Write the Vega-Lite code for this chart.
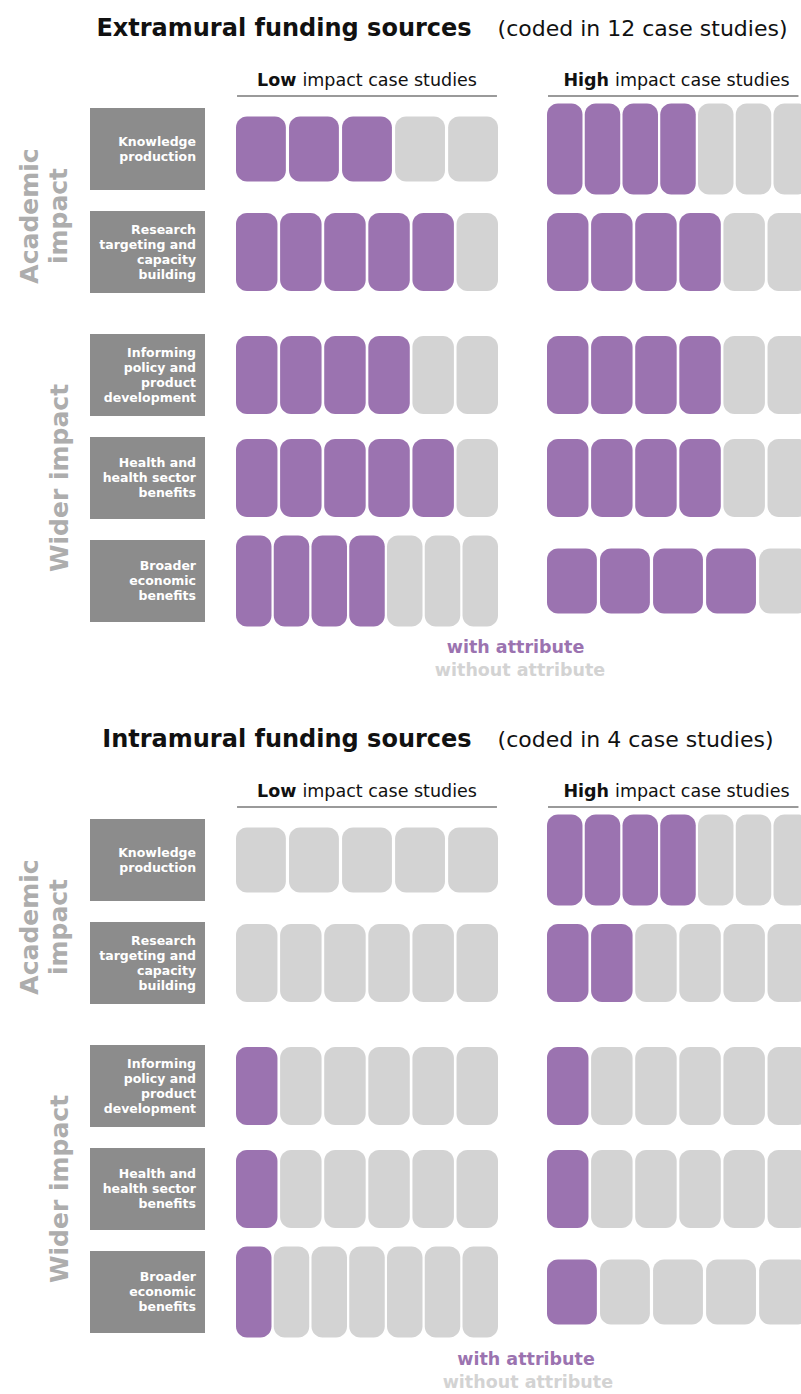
{
  "$schema": "https://vega.github.io/schema/vega-lite/v6.json",
  "padding": 0,
  "spacing": 0,
  "config": {"view": {"stroke": null}, "font": "DejaVu Sans", "text": {"font": "DejaVu Sans"}},
  "datasets": {
    "groups": [
      {"g": "Academic", "t": ["Academic", "impact"]},
      {"g": "Wider", "t": ["Wider impact"]}
    ],
    "labels": [
      {"c": "Knowledge", "g": "Academic", "t": ["Knowledge", "production"]},
      {"c": "Research", "g": "Academic", "t": ["Research", "targeting and", "capacity", "building"]},
      {"c": "Policy", "g": "Wider", "t": ["Informing", "policy and", "product", "development"]},
      {"c": "Health", "g": "Wider", "t": ["Health and", "health sector", "benefits"]},
      {"c": "Economic", "g": "Wider", "t": ["Broader", "economic", "benefits"]}
    ],
    "boxes": [
      {"s": "Extramural", "c": "Knowledge", "l": "Low", "i": 1, "a": "with"},
      {"s": "Extramural", "c": "Knowledge", "l": "Low", "i": 2, "a": "with"},
      {"s": "Extramural", "c": "Knowledge", "l": "Low", "i": 3, "a": "with"},
      {"s": "Extramural", "c": "Knowledge", "l": "Low", "i": 4, "a": "without"},
      {"s": "Extramural", "c": "Knowledge", "l": "Low", "i": 5, "a": "without"},
      {"s": "Extramural", "c": "Knowledge", "l": "High", "i": 1, "a": "with"},
      {"s": "Extramural", "c": "Knowledge", "l": "High", "i": 2, "a": "with"},
      {"s": "Extramural", "c": "Knowledge", "l": "High", "i": 3, "a": "with"},
      {"s": "Extramural", "c": "Knowledge", "l": "High", "i": 4, "a": "with"},
      {"s": "Extramural", "c": "Knowledge", "l": "High", "i": 5, "a": "without"},
      {"s": "Extramural", "c": "Knowledge", "l": "High", "i": 6, "a": "without"},
      {"s": "Extramural", "c": "Knowledge", "l": "High", "i": 7, "a": "without"},
      {"s": "Extramural", "c": "Research", "l": "Low", "i": 1, "a": "with"},
      {"s": "Extramural", "c": "Research", "l": "Low", "i": 2, "a": "with"},
      {"s": "Extramural", "c": "Research", "l": "Low", "i": 3, "a": "with"},
      {"s": "Extramural", "c": "Research", "l": "Low", "i": 4, "a": "with"},
      {"s": "Extramural", "c": "Research", "l": "Low", "i": 5, "a": "with"},
      {"s": "Extramural", "c": "Research", "l": "Low", "i": 6, "a": "without"},
      {"s": "Extramural", "c": "Research", "l": "High", "i": 1, "a": "with"},
      {"s": "Extramural", "c": "Research", "l": "High", "i": 2, "a": "with"},
      {"s": "Extramural", "c": "Research", "l": "High", "i": 3, "a": "with"},
      {"s": "Extramural", "c": "Research", "l": "High", "i": 4, "a": "with"},
      {"s": "Extramural", "c": "Research", "l": "High", "i": 5, "a": "without"},
      {"s": "Extramural", "c": "Research", "l": "High", "i": 6, "a": "without"},
      {"s": "Extramural", "c": "Policy", "l": "Low", "i": 1, "a": "with"},
      {"s": "Extramural", "c": "Policy", "l": "Low", "i": 2, "a": "with"},
      {"s": "Extramural", "c": "Policy", "l": "Low", "i": 3, "a": "with"},
      {"s": "Extramural", "c": "Policy", "l": "Low", "i": 4, "a": "with"},
      {"s": "Extramural", "c": "Policy", "l": "Low", "i": 5, "a": "without"},
      {"s": "Extramural", "c": "Policy", "l": "Low", "i": 6, "a": "without"},
      {"s": "Extramural", "c": "Policy", "l": "High", "i": 1, "a": "with"},
      {"s": "Extramural", "c": "Policy", "l": "High", "i": 2, "a": "with"},
      {"s": "Extramural", "c": "Policy", "l": "High", "i": 3, "a": "with"},
      {"s": "Extramural", "c": "Policy", "l": "High", "i": 4, "a": "with"},
      {"s": "Extramural", "c": "Policy", "l": "High", "i": 5, "a": "without"},
      {"s": "Extramural", "c": "Policy", "l": "High", "i": 6, "a": "without"},
      {"s": "Extramural", "c": "Health", "l": "Low", "i": 1, "a": "with"},
      {"s": "Extramural", "c": "Health", "l": "Low", "i": 2, "a": "with"},
      {"s": "Extramural", "c": "Health", "l": "Low", "i": 3, "a": "with"},
      {"s": "Extramural", "c": "Health", "l": "Low", "i": 4, "a": "with"},
      {"s": "Extramural", "c": "Health", "l": "Low", "i": 5, "a": "with"},
      {"s": "Extramural", "c": "Health", "l": "Low", "i": 6, "a": "without"},
      {"s": "Extramural", "c": "Health", "l": "High", "i": 1, "a": "with"},
      {"s": "Extramural", "c": "Health", "l": "High", "i": 2, "a": "with"},
      {"s": "Extramural", "c": "Health", "l": "High", "i": 3, "a": "with"},
      {"s": "Extramural", "c": "Health", "l": "High", "i": 4, "a": "with"},
      {"s": "Extramural", "c": "Health", "l": "High", "i": 5, "a": "without"},
      {"s": "Extramural", "c": "Health", "l": "High", "i": 6, "a": "without"},
      {"s": "Extramural", "c": "Economic", "l": "Low", "i": 1, "a": "with"},
      {"s": "Extramural", "c": "Economic", "l": "Low", "i": 2, "a": "with"},
      {"s": "Extramural", "c": "Economic", "l": "Low", "i": 3, "a": "with"},
      {"s": "Extramural", "c": "Economic", "l": "Low", "i": 4, "a": "with"},
      {"s": "Extramural", "c": "Economic", "l": "Low", "i": 5, "a": "without"},
      {"s": "Extramural", "c": "Economic", "l": "Low", "i": 6, "a": "without"},
      {"s": "Extramural", "c": "Economic", "l": "Low", "i": 7, "a": "without"},
      {"s": "Extramural", "c": "Economic", "l": "High", "i": 1, "a": "with"},
      {"s": "Extramural", "c": "Economic", "l": "High", "i": 2, "a": "with"},
      {"s": "Extramural", "c": "Economic", "l": "High", "i": 3, "a": "with"},
      {"s": "Extramural", "c": "Economic", "l": "High", "i": 4, "a": "with"},
      {"s": "Extramural", "c": "Economic", "l": "High", "i": 5, "a": "without"},
      {"s": "Intramural", "c": "Knowledge", "l": "Low", "i": 1, "a": "without"},
      {"s": "Intramural", "c": "Knowledge", "l": "Low", "i": 2, "a": "without"},
      {"s": "Intramural", "c": "Knowledge", "l": "Low", "i": 3, "a": "without"},
      {"s": "Intramural", "c": "Knowledge", "l": "Low", "i": 4, "a": "without"},
      {"s": "Intramural", "c": "Knowledge", "l": "Low", "i": 5, "a": "without"},
      {"s": "Intramural", "c": "Knowledge", "l": "High", "i": 1, "a": "with"},
      {"s": "Intramural", "c": "Knowledge", "l": "High", "i": 2, "a": "with"},
      {"s": "Intramural", "c": "Knowledge", "l": "High", "i": 3, "a": "with"},
      {"s": "Intramural", "c": "Knowledge", "l": "High", "i": 4, "a": "with"},
      {"s": "Intramural", "c": "Knowledge", "l": "High", "i": 5, "a": "without"},
      {"s": "Intramural", "c": "Knowledge", "l": "High", "i": 6, "a": "without"},
      {"s": "Intramural", "c": "Knowledge", "l": "High", "i": 7, "a": "without"},
      {"s": "Intramural", "c": "Research", "l": "Low", "i": 1, "a": "without"},
      {"s": "Intramural", "c": "Research", "l": "Low", "i": 2, "a": "without"},
      {"s": "Intramural", "c": "Research", "l": "Low", "i": 3, "a": "without"},
      {"s": "Intramural", "c": "Research", "l": "Low", "i": 4, "a": "without"},
      {"s": "Intramural", "c": "Research", "l": "Low", "i": 5, "a": "without"},
      {"s": "Intramural", "c": "Research", "l": "Low", "i": 6, "a": "without"},
      {"s": "Intramural", "c": "Research", "l": "High", "i": 1, "a": "with"},
      {"s": "Intramural", "c": "Research", "l": "High", "i": 2, "a": "with"},
      {"s": "Intramural", "c": "Research", "l": "High", "i": 3, "a": "without"},
      {"s": "Intramural", "c": "Research", "l": "High", "i": 4, "a": "without"},
      {"s": "Intramural", "c": "Research", "l": "High", "i": 5, "a": "without"},
      {"s": "Intramural", "c": "Research", "l": "High", "i": 6, "a": "without"},
      {"s": "Intramural", "c": "Policy", "l": "Low", "i": 1, "a": "with"},
      {"s": "Intramural", "c": "Policy", "l": "Low", "i": 2, "a": "without"},
      {"s": "Intramural", "c": "Policy", "l": "Low", "i": 3, "a": "without"},
      {"s": "Intramural", "c": "Policy", "l": "Low", "i": 4, "a": "without"},
      {"s": "Intramural", "c": "Policy", "l": "Low", "i": 5, "a": "without"},
      {"s": "Intramural", "c": "Policy", "l": "Low", "i": 6, "a": "without"},
      {"s": "Intramural", "c": "Policy", "l": "High", "i": 1, "a": "with"},
      {"s": "Intramural", "c": "Policy", "l": "High", "i": 2, "a": "without"},
      {"s": "Intramural", "c": "Policy", "l": "High", "i": 3, "a": "without"},
      {"s": "Intramural", "c": "Policy", "l": "High", "i": 4, "a": "without"},
      {"s": "Intramural", "c": "Policy", "l": "High", "i": 5, "a": "without"},
      {"s": "Intramural", "c": "Policy", "l": "High", "i": 6, "a": "without"},
      {"s": "Intramural", "c": "Health", "l": "Low", "i": 1, "a": "with"},
      {"s": "Intramural", "c": "Health", "l": "Low", "i": 2, "a": "without"},
      {"s": "Intramural", "c": "Health", "l": "Low", "i": 3, "a": "without"},
      {"s": "Intramural", "c": "Health", "l": "Low", "i": 4, "a": "without"},
      {"s": "Intramural", "c": "Health", "l": "Low", "i": 5, "a": "without"},
      {"s": "Intramural", "c": "Health", "l": "Low", "i": 6, "a": "without"},
      {"s": "Intramural", "c": "Health", "l": "High", "i": 1, "a": "with"},
      {"s": "Intramural", "c": "Health", "l": "High", "i": 2, "a": "without"},
      {"s": "Intramural", "c": "Health", "l": "High", "i": 3, "a": "without"},
      {"s": "Intramural", "c": "Health", "l": "High", "i": 4, "a": "without"},
      {"s": "Intramural", "c": "Health", "l": "High", "i": 5, "a": "without"},
      {"s": "Intramural", "c": "Health", "l": "High", "i": 6, "a": "without"},
      {"s": "Intramural", "c": "Economic", "l": "Low", "i": 1, "a": "with"},
      {"s": "Intramural", "c": "Economic", "l": "Low", "i": 2, "a": "without"},
      {"s": "Intramural", "c": "Economic", "l": "Low", "i": 3, "a": "without"},
      {"s": "Intramural", "c": "Economic", "l": "Low", "i": 4, "a": "without"},
      {"s": "Intramural", "c": "Economic", "l": "Low", "i": 5, "a": "without"},
      {"s": "Intramural", "c": "Economic", "l": "Low", "i": 6, "a": "without"},
      {"s": "Intramural", "c": "Economic", "l": "Low", "i": 7, "a": "without"},
      {"s": "Intramural", "c": "Economic", "l": "High", "i": 1, "a": "with"},
      {"s": "Intramural", "c": "Economic", "l": "High", "i": 2, "a": "without"},
      {"s": "Intramural", "c": "Economic", "l": "High", "i": 3, "a": "without"},
      {"s": "Intramural", "c": "Economic", "l": "High", "i": 4, "a": "without"},
      {"s": "Intramural", "c": "Economic", "l": "High", "i": 5, "a": "without"}
    ]
  },
  "vconcat": [
    {
      "spacing": 0,
      "vconcat": [
        {
          "width": 801, "height": 60,
          "data": {"values": [{"main": "Extramural funding sources", "note": "(coded in 12 case studies)"}]},
          "layer": [
            {"mark": {"type": "text", "align": "right", "baseline": "middle", "dx": -13, "fontSize": 24, "fontWeight": "bold", "color": "#111111"},
             "encoding": {"x": {"datum": 0.605, "type": "quantitative", "scale": {"domain": [0, 1]}, "axis": null},
                          "y": {"datum": 0.52, "type": "quantitative", "scale": {"domain": [0, 1]}, "axis": null},
                          "text": {"field": "main"}}},
            {"mark": {"type": "text", "align": "left", "baseline": "middle", "dx": 13, "fontSize": 22, "color": "#111111"},
             "encoding": {"x": {"datum": 0.605, "type": "quantitative"}, "y": {"datum": 0.52, "type": "quantitative"}, "text": {"field": "note"}}}
          ]
        },
        {
          "spacing": 31,
          "hconcat": [
            {"width": 205, "height": 43, "data": {"values": [{}]}, "mark": {"type": "text", "text": ""}},
            {
              "spacing": 49,
              "hconcat": [
                {
                  "width": 262, "height": 43,
                  "data": {"values": [{"l": "Low", "rest": "impact case studies"}]},
                  "layer": [
                    {"mark": {"type": "rule", "color": "#9a9a9a", "strokeWidth": 2},
                     "encoding": {"x": {"datum": 0.004, "type": "quantitative", "scale": {"domain": [0, 1]}, "axis": null}, "x2": {"datum": 0.996},
                                  "y": {"datum": 0.163, "type": "quantitative", "scale": {"domain": [0, 1]}, "axis": null}}},
                    {"mark": {"type": "text", "align": "right", "baseline": "middle", "dx": -3, "fontSize": 17.5, "fontWeight": "bold", "color": "#111111"},
                     "encoding": {"x": {"datum": 0.242, "type": "quantitative"}, "y": {"datum": 0.512, "type": "quantitative"}, "text": {"field": "l"}}},
                    {"mark": {"type": "text", "align": "left", "baseline": "middle", "dx": 3, "fontSize": 17.5, "color": "#111111"},
                     "encoding": {"x": {"datum": 0.242, "type": "quantitative"}, "y": {"datum": 0.512, "type": "quantitative"}, "text": {"field": "rest"}}}
                  ]
                },
                {
                  "width": 254, "height": 43,
                  "data": {"values": [{"l": "High", "rest": "impact case studies"}]},
                  "layer": [
                    {"mark": {"type": "rule", "color": "#9a9a9a", "strokeWidth": 2},
                     "encoding": {"x": {"datum": 0.004, "type": "quantitative", "scale": {"domain": [0, 1]}, "axis": null}, "x2": {"datum": 0.99},
                                  "y": {"datum": 0.163, "type": "quantitative", "scale": {"domain": [0, 1]}, "axis": null}}},
                    {"mark": {"type": "text", "align": "right", "baseline": "middle", "dx": -3, "fontSize": 17.5, "fontWeight": "bold", "color": "#111111"},
                     "encoding": {"x": {"datum": 0.256, "type": "quantitative"}, "y": {"datum": 0.512, "type": "quantitative"}, "text": {"field": "l"}}},
                    {"mark": {"type": "text", "align": "left", "baseline": "middle", "dx": 3, "fontSize": 17.5, "color": "#111111"},
                     "encoding": {"x": {"datum": 0.256, "type": "quantitative"}, "y": {"datum": 0.512, "type": "quantitative"}, "text": {"field": "rest"}}}
                  ]
                }
              ]
            }
          ]
        },
        {
          "spacing": 31,
          "vconcat": [
            {
              "spacing": 31,
              "hconcat": [
                {
                  "spacing": 10,
                  "hconcat": [
                    {
                      "width": 80, "height": 195,
                      "data": {"name": "groups"},
                      "transform": [{"filter": {"field": "g", "equal": "Academic"}}],
                      "mark": {"type": "text", "angle": 270, "align": "center", "baseline": "alphabetic", "lineHeight": 29, "fontSize": 25, "fontWeight": "bold", "color": "#adadad"},
                      "encoding": {"x": {"datum": 0.475, "type": "quantitative", "scale": {"domain": [0, 1]}, "axis": null},
                                   "y": {"datum": 0.4205, "type": "quantitative", "scale": {"domain": [0, 1]}, "axis": null},
                                   "text": {"field": "t"}}
                    },
                    {
                      "data": {"name": "labels"},
                      "transform": [{"filter": {"field": "g", "equal": "Academic"}}],
                      "facet": {"row": {"field": "c", "type": "nominal", "sort": ["Knowledge", "Research"], "header": null}},
                      "spacing": 11,
                      "spec": {
                        "width": 115, "height": 92,
                        "layer": [
                          {"mark": {"type": "rect", "color": "#8c8c8c"},
                           "encoding": {"x": {"datum": 0, "type": "quantitative", "scale": {"domain": [0, 1]}, "axis": null}, "x2": {"datum": 1},
                                        "y": {"datum": 0.0543, "type": "quantitative", "scale": {"domain": [0, 1]}, "axis": null}, "y2": {"datum": 0.9457}}},
                          {"mark": {"type": "text", "align": "right", "baseline": "middle", "lineHeight": 15, "fontSize": 12.5, "fontWeight": "bold", "color": "#ffffff", "dy": {"expr": "-(length(datum.t) - 1) * 7.5"}},
                           "encoding": {"x": {"datum": 0.922, "type": "quantitative"}, "y": {"datum": 0.5, "type": "quantitative"}, "text": {"field": "t"}}}
                        ]
                      }
                    }
                  ]
                },
                {
                  "spacing": 49,
                  "hconcat": [
                    {
                      "data": {"name": "boxes"},
                      "transform": [
                        {"joinaggregate": [{"op": "count", "as": "n"}], "groupby": ["s", "c", "l"]},
                        {"stack": "n", "groupby": ["s", "c", "l", "i"], "offset": "center", "as": ["y0", "y1"]},
                        {"filter": {"and": [{"field": "s", "equal": "Extramural"}, {"field": "l", "equal": "Low"}, {"field": "c", "oneOf": ["Knowledge", "Research"]}]}}
                      ],
                      "facet": {"row": {"field": "c", "type": "nominal", "sort": ["Knowledge", "Research"], "header": null}},
                      "spacing": 11,
                      "resolve": {"scale": {"x": "independent"}},
                      "spec": {
                        "width": 262, "height": 92,
                        "mark": {"type": "bar", "cornerRadius": 11},
                        "encoding": {
                          "x": {"field": "i", "type": "ordinal", "axis": null, "scale": {"paddingInner": 0.06, "paddingOuter": 0}},
                          "y": {"field": "y0", "type": "quantitative", "axis": null, "scale": {"domain": [-0.0385, 7.0385], "nice": false, "zero": false}},
                          "y2": {"field": "y1"},
                          "color": {"field": "a", "type": "nominal", "legend": null, "scale": {"domain": ["with", "without"], "range": ["#9b73b0", "#d3d3d3"]}}
                        }
                      }
                    },
                    {
                      "data": {"name": "boxes"},
                      "transform": [
                        {"joinaggregate": [{"op": "count", "as": "n"}], "groupby": ["s", "c", "l"]},
                        {"stack": "n", "groupby": ["s", "c", "l", "i"], "offset": "center", "as": ["y0", "y1"]},
                        {"filter": {"and": [{"field": "s", "equal": "Extramural"}, {"field": "l", "equal": "High"}, {"field": "c", "oneOf": ["Knowledge", "Research"]}]}}
                      ],
                      "facet": {"row": {"field": "c", "type": "nominal", "sort": ["Knowledge", "Research"], "header": null}},
                      "spacing": 11,
                      "resolve": {"scale": {"x": "independent"}},
                      "spec": {
                        "width": 254, "height": 92,
                        "mark": {"type": "bar", "cornerRadius": 11, "clip": true},
                        "encoding": {
                          "x": {"field": "i", "type": "ordinal", "axis": null, "scale": {"paddingInner": 0.06, "paddingOuter": 0, "range": [0, 262]}},
                          "y": {"field": "y0", "type": "quantitative", "axis": null, "scale": {"domain": [-0.0385, 7.0385], "nice": false, "zero": false}},
                          "y2": {"field": "y1"},
                          "color": {"field": "a", "type": "nominal", "legend": null, "scale": {"domain": ["with", "without"], "range": ["#9b73b0", "#d3d3d3"]}}
                        }
                      }
                    }
                  ]
                }
              ]
            },
            {
              "spacing": 31,
              "hconcat": [
                {
                  "spacing": 10,
                  "hconcat": [
                    {
                      "width": 80, "height": 298,
                      "data": {"name": "groups"},
                      "transform": [{"filter": {"field": "g", "equal": "Wider"}}],
                      "mark": {"type": "text", "angle": 270, "align": "center", "baseline": "alphabetic", "lineHeight": 29, "fontSize": 25, "fontWeight": "bold", "color": "#adadad"},
                      "encoding": {"x": {"datum": 0.85, "type": "quantitative", "scale": {"domain": [0, 1]}, "axis": null},
                                   "y": {"datum": 0.5, "type": "quantitative", "scale": {"domain": [0, 1]}, "axis": null},
                                   "text": {"field": "t"}}
                    },
                    {
                      "data": {"name": "labels"},
                      "transform": [{"filter": {"field": "g", "equal": "Wider"}}],
                      "facet": {"row": {"field": "c", "type": "nominal", "sort": ["Policy", "Health", "Economic"], "header": null}},
                      "spacing": 11,
                      "spec": {
                        "width": 115, "height": 92,
                        "layer": [
                          {"mark": {"type": "rect", "color": "#8c8c8c"},
                           "encoding": {"x": {"datum": 0, "type": "quantitative", "scale": {"domain": [0, 1]}, "axis": null}, "x2": {"datum": 1},
                                        "y": {"datum": 0.0543, "type": "quantitative", "scale": {"domain": [0, 1]}, "axis": null}, "y2": {"datum": 0.9457}}},
                          {"mark": {"type": "text", "align": "right", "baseline": "middle", "lineHeight": 15, "fontSize": 12.5, "fontWeight": "bold", "color": "#ffffff", "dy": {"expr": "-(length(datum.t) - 1) * 7.5"}},
                           "encoding": {"x": {"datum": 0.922, "type": "quantitative"}, "y": {"datum": 0.5, "type": "quantitative"}, "text": {"field": "t"}}}
                        ]
                      }
                    }
                  ]
                },
                {
                  "spacing": 49,
                  "hconcat": [
                    {
                      "data": {"name": "boxes"},
                      "transform": [
                        {"joinaggregate": [{"op": "count", "as": "n"}], "groupby": ["s", "c", "l"]},
                        {"stack": "n", "groupby": ["s", "c", "l", "i"], "offset": "center", "as": ["y0", "y1"]},
                        {"filter": {"and": [{"field": "s", "equal": "Extramural"}, {"field": "l", "equal": "Low"}, {"field": "c", "oneOf": ["Policy", "Health", "Economic"]}]}}
                      ],
                      "facet": {"row": {"field": "c", "type": "nominal", "sort": ["Policy", "Health", "Economic"], "header": null}},
                      "spacing": 11,
                      "resolve": {"scale": {"x": "independent"}},
                      "spec": {
                        "width": 262, "height": 92,
                        "mark": {"type": "bar", "cornerRadius": 11},
                        "encoding": {
                          "x": {"field": "i", "type": "ordinal", "axis": null, "scale": {"paddingInner": 0.06, "paddingOuter": 0}},
                          "y": {"field": "y0", "type": "quantitative", "axis": null, "scale": {"domain": [-0.0385, 7.0385], "nice": false, "zero": false}},
                          "y2": {"field": "y1"},
                          "color": {"field": "a", "type": "nominal", "legend": null, "scale": {"domain": ["with", "without"], "range": ["#9b73b0", "#d3d3d3"]}}
                        }
                      }
                    },
                    {
                      "data": {"name": "boxes"},
                      "transform": [
                        {"joinaggregate": [{"op": "count", "as": "n"}], "groupby": ["s", "c", "l"]},
                        {"stack": "n", "groupby": ["s", "c", "l", "i"], "offset": "center", "as": ["y0", "y1"]},
                        {"filter": {"and": [{"field": "s", "equal": "Extramural"}, {"field": "l", "equal": "High"}, {"field": "c", "oneOf": ["Policy", "Health", "Economic"]}]}}
                      ],
                      "facet": {"row": {"field": "c", "type": "nominal", "sort": ["Policy", "Health", "Economic"], "header": null}},
                      "spacing": 11,
                      "resolve": {"scale": {"x": "independent"}},
                      "spec": {
                        "width": 254, "height": 92,
                        "mark": {"type": "bar", "cornerRadius": 11, "clip": true},
                        "encoding": {
                          "x": {"field": "i", "type": "ordinal", "axis": null, "scale": {"paddingInner": 0.06, "paddingOuter": 0, "range": [0, 262]}},
                          "y": {"field": "y0", "type": "quantitative", "axis": null, "scale": {"domain": [-0.0385, 7.0385], "nice": false, "zero": false}},
                          "y2": {"field": "y1"},
                          "color": {"field": "a", "type": "nominal", "legend": null, "scale": {"domain": ["with", "without"], "range": ["#9b73b0", "#d3d3d3"]}}
                        }
                      }
                    }
                  ]
                }
              ]
            }
          ]
        },
        {
          "width": 801, "height": 84,
          "data": {"values": [{"w": "with attribute", "wo": "without attribute"}]},
          "layer": [
            {"mark": {"type": "text", "align": "center", "baseline": "middle", "fontSize": 17.5, "fontWeight": "bold", "color": "#9b73b0"},
             "encoding": {"x": {"datum": 0.6436, "type": "quantitative", "scale": {"domain": [0, 1]}, "axis": null},
                          "y": {"datum": 0.75, "type": "quantitative", "scale": {"domain": [0, 1]}, "axis": null},
                          "text": {"field": "w"}}},
            {"mark": {"type": "text", "align": "center", "baseline": "middle", "fontSize": 17.5, "fontWeight": "bold", "color": "#d3d3d3"},
             "encoding": {"x": {"datum": 0.6492, "type": "quantitative"}, "y": {"datum": 0.476, "type": "quantitative"}, "text": {"field": "wo"}}}
          ]
        }
      ]
    },
    {
      "spacing": 0,
      "vconcat": [
        {
          "width": 801, "height": 60,
          "data": {"values": [{"main": "Intramural funding sources", "note": "(coded in 4 case studies)"}]},
          "layer": [
            {"mark": {"type": "text", "align": "right", "baseline": "middle", "dx": -13, "fontSize": 24, "fontWeight": "bold", "color": "#111111"},
             "encoding": {"x": {"datum": 0.605, "type": "quantitative", "scale": {"domain": [0, 1]}, "axis": null},
                          "y": {"datum": 0.52, "type": "quantitative", "scale": {"domain": [0, 1]}, "axis": null},
                          "text": {"field": "main"}}},
            {"mark": {"type": "text", "align": "left", "baseline": "middle", "dx": 13, "fontSize": 22, "color": "#111111"},
             "encoding": {"x": {"datum": 0.605, "type": "quantitative"}, "y": {"datum": 0.52, "type": "quantitative"}, "text": {"field": "note"}}}
          ]
        },
        {
          "spacing": 31,
          "hconcat": [
            {"width": 205, "height": 43, "data": {"values": [{}]}, "mark": {"type": "text", "text": ""}},
            {
              "spacing": 49,
              "hconcat": [
                {
                  "width": 262, "height": 43,
                  "data": {"values": [{"l": "Low", "rest": "impact case studies"}]},
                  "layer": [
                    {"mark": {"type": "rule", "color": "#9a9a9a", "strokeWidth": 2},
                     "encoding": {"x": {"datum": 0.004, "type": "quantitative", "scale": {"domain": [0, 1]}, "axis": null}, "x2": {"datum": 0.996},
                                  "y": {"datum": 0.163, "type": "quantitative", "scale": {"domain": [0, 1]}, "axis": null}}},
                    {"mark": {"type": "text", "align": "right", "baseline": "middle", "dx": -3, "fontSize": 17.5, "fontWeight": "bold", "color": "#111111"},
                     "encoding": {"x": {"datum": 0.242, "type": "quantitative"}, "y": {"datum": 0.512, "type": "quantitative"}, "text": {"field": "l"}}},
                    {"mark": {"type": "text", "align": "left", "baseline": "middle", "dx": 3, "fontSize": 17.5, "color": "#111111"},
                     "encoding": {"x": {"datum": 0.242, "type": "quantitative"}, "y": {"datum": 0.512, "type": "quantitative"}, "text": {"field": "rest"}}}
                  ]
                },
                {
                  "width": 254, "height": 43,
                  "data": {"values": [{"l": "High", "rest": "impact case studies"}]},
                  "layer": [
                    {"mark": {"type": "rule", "color": "#9a9a9a", "strokeWidth": 2},
                     "encoding": {"x": {"datum": 0.004, "type": "quantitative", "scale": {"domain": [0, 1]}, "axis": null}, "x2": {"datum": 0.99},
                                  "y": {"datum": 0.163, "type": "quantitative", "scale": {"domain": [0, 1]}, "axis": null}}},
                    {"mark": {"type": "text", "align": "right", "baseline": "middle", "dx": -3, "fontSize": 17.5, "fontWeight": "bold", "color": "#111111"},
                     "encoding": {"x": {"datum": 0.256, "type": "quantitative"}, "y": {"datum": 0.512, "type": "quantitative"}, "text": {"field": "l"}}},
                    {"mark": {"type": "text", "align": "left", "baseline": "middle", "dx": 3, "fontSize": 17.5, "color": "#111111"},
                     "encoding": {"x": {"datum": 0.256, "type": "quantitative"}, "y": {"datum": 0.512, "type": "quantitative"}, "text": {"field": "rest"}}}
                  ]
                }
              ]
            }
          ]
        },
        {
          "spacing": 31,
          "vconcat": [
            {
              "spacing": 31,
              "hconcat": [
                {
                  "spacing": 10,
                  "hconcat": [
                    {
                      "width": 80, "height": 195,
                      "data": {"name": "groups"},
                      "transform": [{"filter": {"field": "g", "equal": "Academic"}}],
                      "mark": {"type": "text", "angle": 270, "align": "center", "baseline": "alphabetic", "lineHeight": 29, "fontSize": 25, "fontWeight": "bold", "color": "#adadad"},
                      "encoding": {"x": {"datum": 0.475, "type": "quantitative", "scale": {"domain": [0, 1]}, "axis": null},
                                   "y": {"datum": 0.4205, "type": "quantitative", "scale": {"domain": [0, 1]}, "axis": null},
                                   "text": {"field": "t"}}
                    },
                    {
                      "data": {"name": "labels"},
                      "transform": [{"filter": {"field": "g", "equal": "Academic"}}],
                      "facet": {"row": {"field": "c", "type": "nominal", "sort": ["Knowledge", "Research"], "header": null}},
                      "spacing": 11,
                      "spec": {
                        "width": 115, "height": 92,
                        "layer": [
                          {"mark": {"type": "rect", "color": "#8c8c8c"},
                           "encoding": {"x": {"datum": 0, "type": "quantitative", "scale": {"domain": [0, 1]}, "axis": null}, "x2": {"datum": 1},
                                        "y": {"datum": 0.0543, "type": "quantitative", "scale": {"domain": [0, 1]}, "axis": null}, "y2": {"datum": 0.9457}}},
                          {"mark": {"type": "text", "align": "right", "baseline": "middle", "lineHeight": 15, "fontSize": 12.5, "fontWeight": "bold", "color": "#ffffff", "dy": {"expr": "-(length(datum.t) - 1) * 7.5"}},
                           "encoding": {"x": {"datum": 0.922, "type": "quantitative"}, "y": {"datum": 0.5, "type": "quantitative"}, "text": {"field": "t"}}}
                        ]
                      }
                    }
                  ]
                },
                {
                  "spacing": 49,
                  "hconcat": [
                    {
                      "data": {"name": "boxes"},
                      "transform": [
                        {"joinaggregate": [{"op": "count", "as": "n"}], "groupby": ["s", "c", "l"]},
                        {"stack": "n", "groupby": ["s", "c", "l", "i"], "offset": "center", "as": ["y0", "y1"]},
                        {"filter": {"and": [{"field": "s", "equal": "Intramural"}, {"field": "l", "equal": "Low"}, {"field": "c", "oneOf": ["Knowledge", "Research"]}]}}
                      ],
                      "facet": {"row": {"field": "c", "type": "nominal", "sort": ["Knowledge", "Research"], "header": null}},
                      "spacing": 11,
                      "resolve": {"scale": {"x": "independent"}},
                      "spec": {
                        "width": 262, "height": 92,
                        "mark": {"type": "bar", "cornerRadius": 11},
                        "encoding": {
                          "x": {"field": "i", "type": "ordinal", "axis": null, "scale": {"paddingInner": 0.06, "paddingOuter": 0}},
                          "y": {"field": "y0", "type": "quantitative", "axis": null, "scale": {"domain": [-0.0385, 7.0385], "nice": false, "zero": false}},
                          "y2": {"field": "y1"},
                          "color": {"field": "a", "type": "nominal", "legend": null, "scale": {"domain": ["with", "without"], "range": ["#9b73b0", "#d3d3d3"]}}
                        }
                      }
                    },
                    {
                      "data": {"name": "boxes"},
                      "transform": [
                        {"joinaggregate": [{"op": "count", "as": "n"}], "groupby": ["s", "c", "l"]},
                        {"stack": "n", "groupby": ["s", "c", "l", "i"], "offset": "center", "as": ["y0", "y1"]},
                        {"filter": {"and": [{"field": "s", "equal": "Intramural"}, {"field": "l", "equal": "High"}, {"field": "c", "oneOf": ["Knowledge", "Research"]}]}}
                      ],
                      "facet": {"row": {"field": "c", "type": "nominal", "sort": ["Knowledge", "Research"], "header": null}},
                      "spacing": 11,
                      "resolve": {"scale": {"x": "independent"}},
                      "spec": {
                        "width": 254, "height": 92,
                        "mark": {"type": "bar", "cornerRadius": 11, "clip": true},
                        "encoding": {
                          "x": {"field": "i", "type": "ordinal", "axis": null, "scale": {"paddingInner": 0.06, "paddingOuter": 0, "range": [0, 262]}},
                          "y": {"field": "y0", "type": "quantitative", "axis": null, "scale": {"domain": [-0.0385, 7.0385], "nice": false, "zero": false}},
                          "y2": {"field": "y1"},
                          "color": {"field": "a", "type": "nominal", "legend": null, "scale": {"domain": ["with", "without"], "range": ["#9b73b0", "#d3d3d3"]}}
                        }
                      }
                    }
                  ]
                }
              ]
            },
            {
              "spacing": 31,
              "hconcat": [
                {
                  "spacing": 10,
                  "hconcat": [
                    {
                      "width": 80, "height": 298,
                      "data": {"name": "groups"},
                      "transform": [{"filter": {"field": "g", "equal": "Wider"}}],
                      "mark": {"type": "text", "angle": 270, "align": "center", "baseline": "alphabetic", "lineHeight": 29, "fontSize": 25, "fontWeight": "bold", "color": "#adadad"},
                      "encoding": {"x": {"datum": 0.85, "type": "quantitative", "scale": {"domain": [0, 1]}, "axis": null},
                                   "y": {"datum": 0.5, "type": "quantitative", "scale": {"domain": [0, 1]}, "axis": null},
                                   "text": {"field": "t"}}
                    },
                    {
                      "data": {"name": "labels"},
                      "transform": [{"filter": {"field": "g", "equal": "Wider"}}],
                      "facet": {"row": {"field": "c", "type": "nominal", "sort": ["Policy", "Health", "Economic"], "header": null}},
                      "spacing": 11,
                      "spec": {
                        "width": 115, "height": 92,
                        "layer": [
                          {"mark": {"type": "rect", "color": "#8c8c8c"},
                           "encoding": {"x": {"datum": 0, "type": "quantitative", "scale": {"domain": [0, 1]}, "axis": null}, "x2": {"datum": 1},
                                        "y": {"datum": 0.0543, "type": "quantitative", "scale": {"domain": [0, 1]}, "axis": null}, "y2": {"datum": 0.9457}}},
                          {"mark": {"type": "text", "align": "right", "baseline": "middle", "lineHeight": 15, "fontSize": 12.5, "fontWeight": "bold", "color": "#ffffff", "dy": {"expr": "-(length(datum.t) - 1) * 7.5"}},
                           "encoding": {"x": {"datum": 0.922, "type": "quantitative"}, "y": {"datum": 0.5, "type": "quantitative"}, "text": {"field": "t"}}}
                        ]
                      }
                    }
                  ]
                },
                {
                  "spacing": 49,
                  "hconcat": [
                    {
                      "data": {"name": "boxes"},
                      "transform": [
                        {"joinaggregate": [{"op": "count", "as": "n"}], "groupby": ["s", "c", "l"]},
                        {"stack": "n", "groupby": ["s", "c", "l", "i"], "offset": "center", "as": ["y0", "y1"]},
                        {"filter": {"and": [{"field": "s", "equal": "Intramural"}, {"field": "l", "equal": "Low"}, {"field": "c", "oneOf": ["Policy", "Health", "Economic"]}]}}
                      ],
                      "facet": {"row": {"field": "c", "type": "nominal", "sort": ["Policy", "Health", "Economic"], "header": null}},
                      "spacing": 11,
                      "resolve": {"scale": {"x": "independent"}},
                      "spec": {
                        "width": 262, "height": 92,
                        "mark": {"type": "bar", "cornerRadius": 11},
                        "encoding": {
                          "x": {"field": "i", "type": "ordinal", "axis": null, "scale": {"paddingInner": 0.06, "paddingOuter": 0}},
                          "y": {"field": "y0", "type": "quantitative", "axis": null, "scale": {"domain": [-0.0385, 7.0385], "nice": false, "zero": false}},
                          "y2": {"field": "y1"},
                          "color": {"field": "a", "type": "nominal", "legend": null, "scale": {"domain": ["with", "without"], "range": ["#9b73b0", "#d3d3d3"]}}
                        }
                      }
                    },
                    {
                      "data": {"name": "boxes"},
                      "transform": [
                        {"joinaggregate": [{"op": "count", "as": "n"}], "groupby": ["s", "c", "l"]},
                        {"stack": "n", "groupby": ["s", "c", "l", "i"], "offset": "center", "as": ["y0", "y1"]},
                        {"filter": {"and": [{"field": "s", "equal": "Intramural"}, {"field": "l", "equal": "High"}, {"field": "c", "oneOf": ["Policy", "Health", "Economic"]}]}}
                      ],
                      "facet": {"row": {"field": "c", "type": "nominal", "sort": ["Policy", "Health", "Economic"], "header": null}},
                      "spacing": 11,
                      "resolve": {"scale": {"x": "independent"}},
                      "spec": {
                        "width": 254, "height": 92,
                        "mark": {"type": "bar", "cornerRadius": 11, "clip": true},
                        "encoding": {
                          "x": {"field": "i", "type": "ordinal", "axis": null, "scale": {"paddingInner": 0.06, "paddingOuter": 0, "range": [0, 262]}},
                          "y": {"field": "y0", "type": "quantitative", "axis": null, "scale": {"domain": [-0.0385, 7.0385], "nice": false, "zero": false}},
                          "y2": {"field": "y1"},
                          "color": {"field": "a", "type": "nominal", "legend": null, "scale": {"domain": ["with", "without"], "range": ["#9b73b0", "#d3d3d3"]}}
                        }
                      }
                    }
                  ]
                }
              ]
            }
          ]
        },
        {
          "width": 801, "height": 55,
          "data": {"values": [{"w": "with attribute", "wo": "without attribute"}]},
          "layer": [
            {"mark": {"type": "text", "align": "center", "baseline": "middle", "fontSize": 17.5, "fontWeight": "bold", "color": "#9b73b0"},
             "encoding": {"x": {"datum": 0.6567, "type": "quantitative", "scale": {"domain": [0, 1]}, "axis": null},
                          "y": {"datum": 0.6, "type": "quantitative", "scale": {"domain": [0, 1]}, "axis": null},
                          "text": {"field": "w"}}},
            {"mark": {"type": "text", "align": "center", "baseline": "middle", "fontSize": 17.5, "fontWeight": "bold", "color": "#d3d3d3"},
             "encoding": {"x": {"datum": 0.659, "type": "quantitative"}, "y": {"datum": 0.182, "type": "quantitative"}, "text": {"field": "wo"}}}
          ]
        }
      ]
    }
  ]
}
